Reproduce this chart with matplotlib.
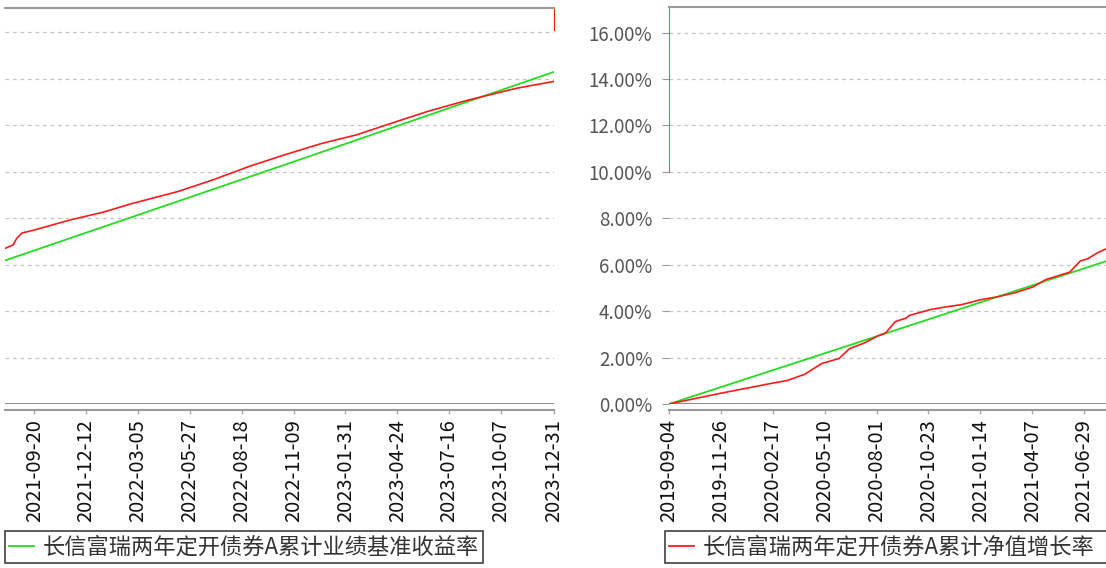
import matplotlib
matplotlib.use('Agg')
import matplotlib.pyplot as plt
from matplotlib.lines import Line2D
import pandas as pd

plt.rcParams['font.family'] = ['Noto Sans CJK SC', 'DejaVu Sans']

# --------------------------
# Data, values in %
# --------------------------

# earlier part (right-hand panel)
early_nav_dates = ['2019-09-04', '2019-11-25', '2020-02-17', '2020-03-11', '2020-04-08',
                   '2020-05-05', '2020-06-02', '2020-06-19', '2020-07-11', '2020-08-03',
                   '2020-08-16', '2020-08-31', '2020-09-17', '2020-09-22', '2020-10-25',
                   '2020-11-17', '2020-12-15', '2021-01-14', '2021-02-09', '2021-03-09',
                   '2021-04-08', '2021-04-29', '2021-06-06', '2021-06-23', '2021-07-05',
                   '2021-07-21', '2021-08-03']
early_nav = [0.00, 0.46, 0.90, 1.01, 1.28, 1.74, 1.96, 2.39, 2.61, 2.93,
             3.07, 3.55, 3.70, 3.81, 4.06, 4.17, 4.28, 4.49, 4.61, 4.78,
             5.04, 5.36, 5.68, 6.16, 6.26, 6.52, 6.68]
early_bench_dates = ['2019-09-04', '2020-08-03', '2021-08-03']
early_bench = [0.00, 2.93, 6.15]

# later part (left-hand panel)
late_nav_dates = ['2021-08-05', '2021-08-17', '2021-08-23', '2021-08-31', '2021-09-21',
                  '2021-11-17', '2022-01-07', '2022-02-22', '2022-05-08', '2022-07-04',
                  '2022-08-30', '2022-10-26', '2022-12-23', '2023-02-18', '2023-04-16',
                  '2023-06-12', '2023-08-08', '2023-09-05', '2023-11-02', '2023-12-31']
late_nav = [6.71, 6.85, 7.14, 7.36, 7.50, 7.93, 8.25, 8.62, 9.15, 9.66,
            10.23, 10.73, 11.21, 11.59, 12.10, 12.60, 13.03, 13.22, 13.60, 13.89]
late_bench_dates = ['2021-08-04', '2022-11-09', '2023-12-31']
late_bench = [6.18, 10.43, 14.30]

early_ticks = ['2019-09-04', '2019-11-26', '2020-02-17', '2020-05-10', '2020-08-01',
               '2020-10-23', '2021-01-14', '2021-04-07', '2021-06-29']
late_ticks = ['2021-09-20', '2021-12-12', '2022-03-05', '2022-05-27', '2022-08-18',
              '2022-11-09', '2023-01-31', '2023-04-24', '2023-07-16', '2023-10-07',
              '2023-12-31']
y_ticks = [0, 2, 4, 6, 8, 10, 12, 14, 16]

nav_label = '长信富瑞两年定开债券A累计净值增长率'
bench_label = '长信富瑞两年定开债券A累计业绩基准收益率'

# --------------------------
# Figure
# --------------------------

W, H = 1106, 568
fig = plt.figure(figsize=(W / 100, H / 100), dpi=100)


def box(l, t, r, b):
    return [l / W, 1 - b / H, (r - l) / W, (b - t) / H]


red = '#ff1a1a'
green = '#22dd22'
grid_c = '#c4c4c4'
ymax = 17.1


def style(ax, dates, labels, start, end):
    ax.set_xlim(pd.Timestamp(start), pd.Timestamp(end))
    ax.set_ylim(0, ymax)
    ax.set_yticks(y_ticks)
    ax.grid(axis='y', linestyle=(0, (3, 3)), color=grid_c, linewidth=0.9)
    ax.set_axisbelow(True)
    ax.set_xticks(pd.to_datetime(dates), labels)
    ax.tick_params(axis='x', direction='out', length=3, width=1, color='#aaaaaa', pad=4,
                   labelrotation=90, labelsize=14.5, labelcolor='#111111')
    for t in ax.get_xticklabels():
        t.set_family(['Liberation Sans', 'DejaVu Sans'])
    ax.spines['bottom'].set_position(('outward', 4))
    ax.spines['bottom'].set_color('#999999')
    ax.spines['bottom'].set_linewidth(1.5)
    ax.spines['top'].set_color('#999999')
    ax.spines['top'].set_linewidth(1.5)
    ax.axhline(0, color='#8a8a8a', linewidth=1.4, zorder=1)


# left panel: later period
ax_l = fig.add_axes(box(5, 8, 554, 404))
ax_l.plot(pd.to_datetime(late_bench_dates), late_bench, color=green, linewidth=1.3)
ax_l.plot(pd.to_datetime(late_nav_dates), late_nav, color=red, linewidth=1.2)
style(ax_l, late_ticks, late_ticks, '2021-08-04', '2023-12-31')
ax_l.set_ylim(0, 17.05)
ax_l.set_yticklabels([])
ax_l.tick_params(axis='y', length=0)
ax_l.spines['left'].set_visible(False)
ax_l.spines['right'].set_bounds(16.1, 17.05)
ax_l.spines['right'].set_color(red)

# right panel: earlier period
ax_r = fig.add_axes(box(669, 7, 1106, 404))
ax_r.plot(pd.to_datetime(early_bench_dates), early_bench, color=green, linewidth=1.3)
ax_r.plot(pd.to_datetime(early_nav_dates), early_nav, color=red, linewidth=1.2)
style(ax_r, early_ticks, early_ticks, '2019-09-04', '2021-08-03')
ax_r.set_yticklabels([f'{v:.2f}%' for v in y_ticks], fontsize=13.5, color='#555555')
ax_r.tick_params(axis='y', direction='out', length=5, color='#999999', pad=7)
ax_r.spines['right'].set_visible(False)
ax_r.spines['left'].set_bounds(10, ymax)
ax_r.spines['left'].set_color('#b07070')

# legends
h_bench = Line2D([], [], color=green, linewidth=1.3)
h_nav = Line2D([], [], color=red, linewidth=1.3)

leg_kw = dict(loc='upper left', bbox_transform=fig.transFigure, fontsize=16,
              frameon=True, fancybox=False, edgecolor='#111111', borderpad=0.2,
              handlelength=1.1, handletextpad=0.4, borderaxespad=0, columnspacing=0.6)
leg_l = fig.legend([h_bench], [bench_label], bbox_to_anchor=(5 / W, 1 - 531 / H), **leg_kw)
leg_r = fig.legend([h_nav, h_bench], [nav_label, bench_label], ncol=2,
                   bbox_to_anchor=(665 / W, 1 - 531 / H), **leg_kw)
for leg in (leg_l, leg_r):
    leg.get_frame().set_linewidth(1.2)
    for t in leg.get_texts():
        t.set_color('#333333')

fig.savefig('out.png', dpi=100)
